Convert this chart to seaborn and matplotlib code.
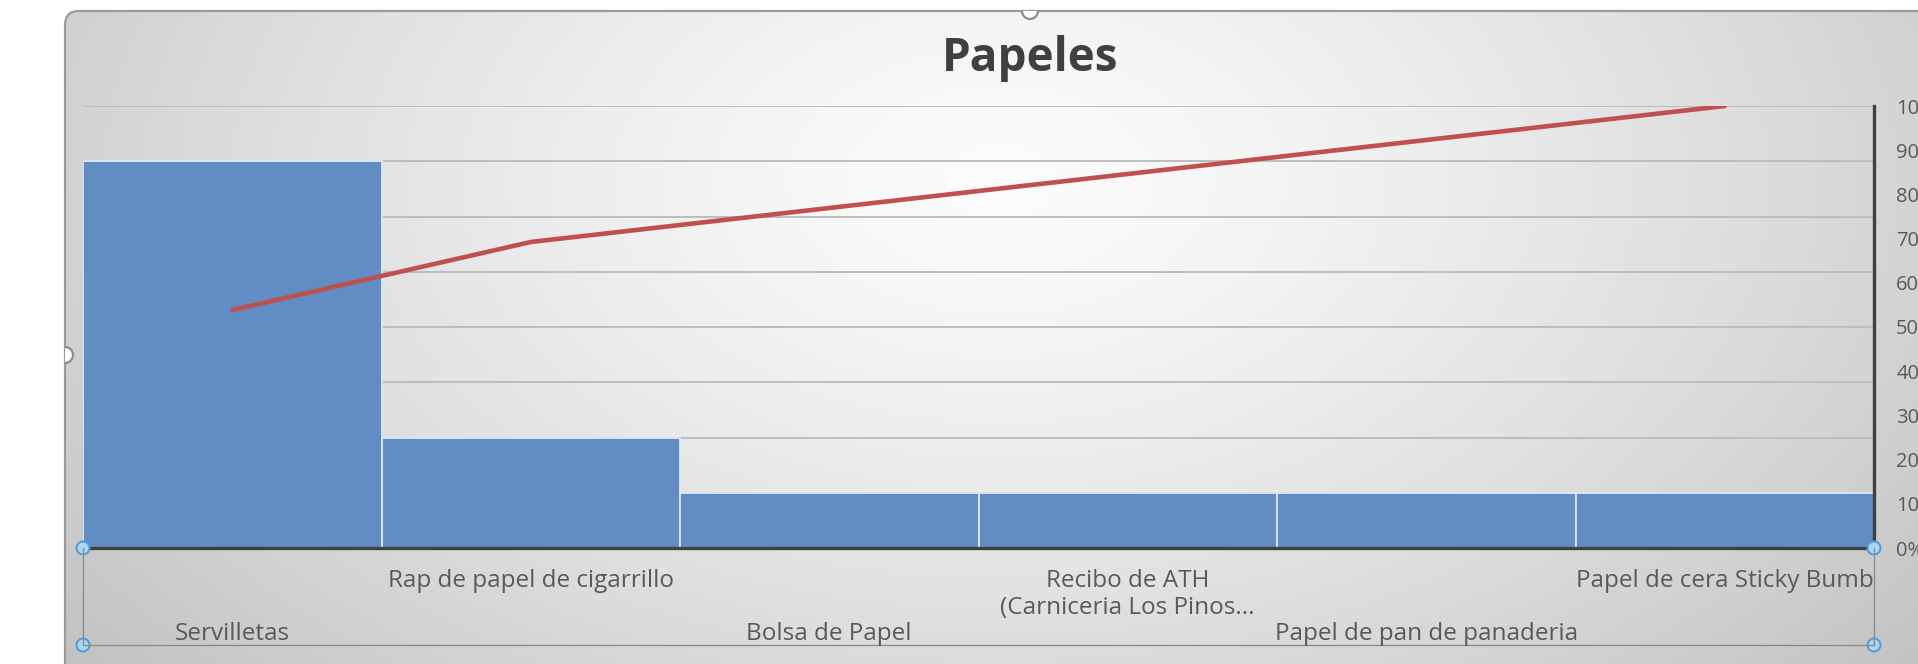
import numpy as np
import pandas as pd
import matplotlib
matplotlib.use("Agg")
import matplotlib.pyplot as plt
import seaborn as sns
from matplotlib.patches import Circle, FancyBboxPatch
from matplotlib import transforms

# ---------------- data ----------------
title = "Papeles"
categories = [
    "Servilletas",
    "Rap de papel de cigarrillo",
    "Bolsa de Papel",
    "Recibo de ATH\n(Carniceria Los Pinos...",
    "Papel de pan de panaderia",
    "Papel de cera Sticky Bumb",
]
counts = [7, 2, 1, 1, 1, 1]
cum_pct = list(np.cumsum(counts) / sum(counts) * 100)
left_ticks = [0, 1, 2, 3, 4, 5, 6, 7, 8]
right_ticks = [0, 10, 20, 30, 40, 50, 60, 70, 80, 90, 100]
right_tick_labels = ["0%", "10%", "20%", "30%", "40%", "50%", "60%", "70%", "80%", "90%", "100%"]

df = pd.DataFrame({"cat": categories, "count": counts, "cum": cum_pct})

# ---------------- style ----------------
sns.set_theme(style="white")
plt.rcParams["font.family"] = ["Open Sans", "DejaVu Sans"]

W, H = 1918, 664
fig = plt.figure(figsize=(W / 100, H / 100), dpi=100)
fig.patch.set_facecolor("white")

# background axes in pixel coordinates
bg = fig.add_axes([0, 0, 1, 1], zorder=0)
bg.set_xlim(0, W)
bg.set_ylim(H, 0)
bg.axis("off")

CX0, CY0 = 65, 11  # chart area top-left corner
frame = FancyBboxPatch((CX0, CY0), W + 40, H + 40,
                       boxstyle="round,pad=0,rounding_size=14",
                       fc="none", ec="#9a9a9a", lw=1.6, transform=bg.transData)
xs = np.linspace(0, W, 480)
ys = np.linspace(0, H, 170)
XX, YY = np.meshgrid(xs, ys)
r = np.sqrt(((XX - 1000) / 1150) ** 2 + ((YY - 180) / 720) ** 2)
g = (252 - 54 * np.clip(r, 0, 1.05) ** 1.3) / 255.0
img = np.dstack([g, g, g])
im = bg.imshow(img, extent=(0, W, H, 0), aspect="auto", interpolation="bilinear")
bg.add_patch(frame)
im.set_clip_path(frame)

# ---------------- main axes ----------------
PL, PR, PT, PB = 83, 1874, 106, 548
ax = fig.add_axes([PL / W, (H - PB) / H, (PR - PL) / W, (PB - PT) / H], zorder=2)
ax.set_facecolor("none")
sns.barplot(data=df, x="cat", y="count", color="#618DC4", saturation=1,
            width=1.0, edgecolor="#dfe9f5", linewidth=1.3, ax=ax, zorder=2)
ax.set_xlim(-0.5, len(categories) - 0.5)
ax.set_ylim(0, 8)
ax.set_yticks(left_ticks)
ax.yaxis.grid(True, color="#bdbdbd", lw=1.4)
ax.set_axisbelow(True)
ax.set_xlabel("")
ax.set_ylabel("")
for s in ["left", "top", "right"]:
    ax.spines[s].set_visible(False)
ax.spines["bottom"].set_color("#404040")
ax.spines["bottom"].set_linewidth(2.4)
ax.spines["bottom"].set_zorder(5)

ax2 = ax.twinx()
sns.lineplot(data=df, x="cat", y="cum", sort=False, color="#C0504D",
             lw=3.3, ax=ax2, solid_capstyle="round")
ax2.set_ylim(0, 100)
ax2.set_yticks(right_ticks)
ax2.set_yticklabels(right_tick_labels)
ax2.tick_params(axis="y", right=False, left=False, length=0, pad=16,
                labelsize=14.5, labelcolor="#595959")
ax2.tick_params(axis="x", bottom=False, labelbottom=False)
ax2.set_ylabel("")
ax2.set_xlabel("")
ax2.grid(False)
for s in ["left", "top", "bottom"]:
    ax2.spines[s].set_visible(False)
ax2.spines["right"].set_color("#404040")
ax2.spines["right"].set_linewidth(2.4)

# after twinx: hide primary ticks
ax.tick_params(axis="y", left=False, right=False, labelleft=False, labelright=False, length=0)
ax.tick_params(axis="x", bottom=False, labelbottom=False, length=0)

# ---------------- overlay (labels, handles) ----------------
fg = fig.add_axes([0, 0, 1, 1], zorder=10)
fg.set_xlim(0, W)
fg.set_ylim(H, 0)
fg.axis("off")
fg.patch.set_alpha(0)

fg.text(1030, 59, title, ha="center", va="center", fontsize=33,
        fontweight="bold", color="#404040")

blend = transforms.blended_transform_factory(ax.transData, fg.transData)
LINE_H = 27
for i, cat in enumerate(categories):
    y = 587 if i % 2 == 1 else 640
    y += LINE_H * cat.count("\n")  # baseline refers to the last line
    fg.text(i, y, cat, transform=blend, ha="center", va="baseline",
            fontsize=17.5, color="#595959", linespacing=1.17)

# axis label box outline
fg.plot([PL, PL, PR, PR], [PB, 645, 645, PB], color="#8c8c8c", lw=1.0)

# selection handles
for (hx, hy) in [(1030, CY0), (CX0, 355)]:
    c = Circle((hx, hy), 8, fc="white", ec="#8c8c8c", lw=1.6)
    fg.add_patch(c)
    c.set_clip_path(FancyBboxPatch((CX0, CY0), W + 40, H + 40,
                                   boxstyle="round,pad=0,rounding_size=14",
                                   transform=fg.transData))
for (hx, hy) in [(PL, PB), (PR, PB), (PL, 645), (PR, 645)]:
    fg.add_patch(Circle((hx, hy), 6.5, fc="#a9d6f5", ec="#4f9bd9", lw=1.4))

fig.savefig("out.png", dpi=100)
